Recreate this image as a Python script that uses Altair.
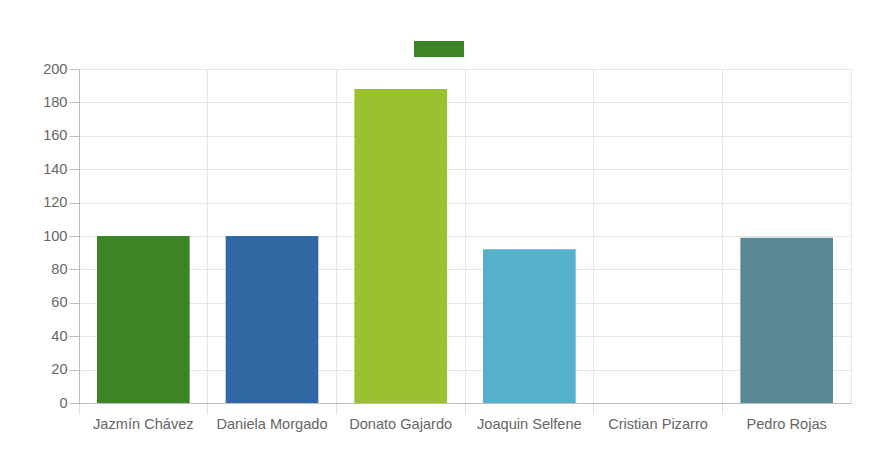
import altair as alt
import pandas as pd

names = ["Jazmín Chávez", "Daniela Morgado", "Donato Gajardo", "Joaquin Selfene", "Cristian Pizarro", "Pedro Rojas"]
values = [100, 100, 188, 92, 0, 99]
colors = ["#3b8526", "#3168a3", "#9ac22e", "#54b0cb", "#d9534f", "#5a8895"]
series_label = [""]
y_ticks = [0, 20, 40, 60, 80, 100, 120, 140, 160, 180, 200]

df = pd.DataFrame({"name": names, "value": values, "series": series_label * len(names)})

x_enc = alt.X("name:N", sort=names, title=None,
              scale=alt.Scale(paddingInner=0, paddingOuter=0),
              axis=alt.Axis(labelAngle=0, bandPosition=0, grid=True, gridColor="#e6e6e6",
                            domainColor="#bdbdbd", tickColor="#e0e0e0", tickSize=11,
                            labelColor="#666666", labelFont="Liberation Sans", labelFontSize=14.6,
                            labelPadding=2, labelAlign="center", labelOverlap=False))
y_enc = alt.Y("value:Q", title=None,
              scale=alt.Scale(domain=[0, 200], nice=False),
              axis=alt.Axis(values=y_ticks, grid=True, gridColor="#e6e6e6",
                            domainColor="#bdbdbd", tickColor="#bdbdbd", tickSize=10,
                            labelColor="#666666", labelFont="Liberation Sans", labelFontSize=14.6,
                            labelPadding=2, labelOverlap=False))

bars = alt.Chart(df).mark_bar(width=alt.RelativeBandSize(0.72)).encode(
    x=x_enc, y=y_enc,
    color=alt.Color("name:N", sort=names, scale=alt.Scale(domain=names, range=colors), legend=None),
)

legend_layer = alt.Chart(df).mark_text(text="").encode(
    x=x_enc,
    y=y_enc,
    fill=alt.Fill("series:N", scale=alt.Scale(domain=series_label, range=[colors[0]]),
                  legend=alt.Legend(title=None, orient="none", legendX=335, legendY=-45,
                                    symbolType="M-1,-0.32H1V0.32H-1Z", symbolSize=2500,
                                    symbolStrokeWidth=0, labelFontSize=1, labelLimit=1,
                                    symbolOpacity=1)),
)

chart = alt.layer(bars, legend_layer).resolve_scale(fill="independent").properties(
    width=772, height=334,
    autosize=alt.AutoSizeParams(type="none"),
    padding={"left": 71, "top": 61, "right": 22, "bottom": 50},
    background="white",
).configure_view(stroke="#e6e6e6")

chart.save("out.html", embed_options={"renderer": "svg", "actions": False})
